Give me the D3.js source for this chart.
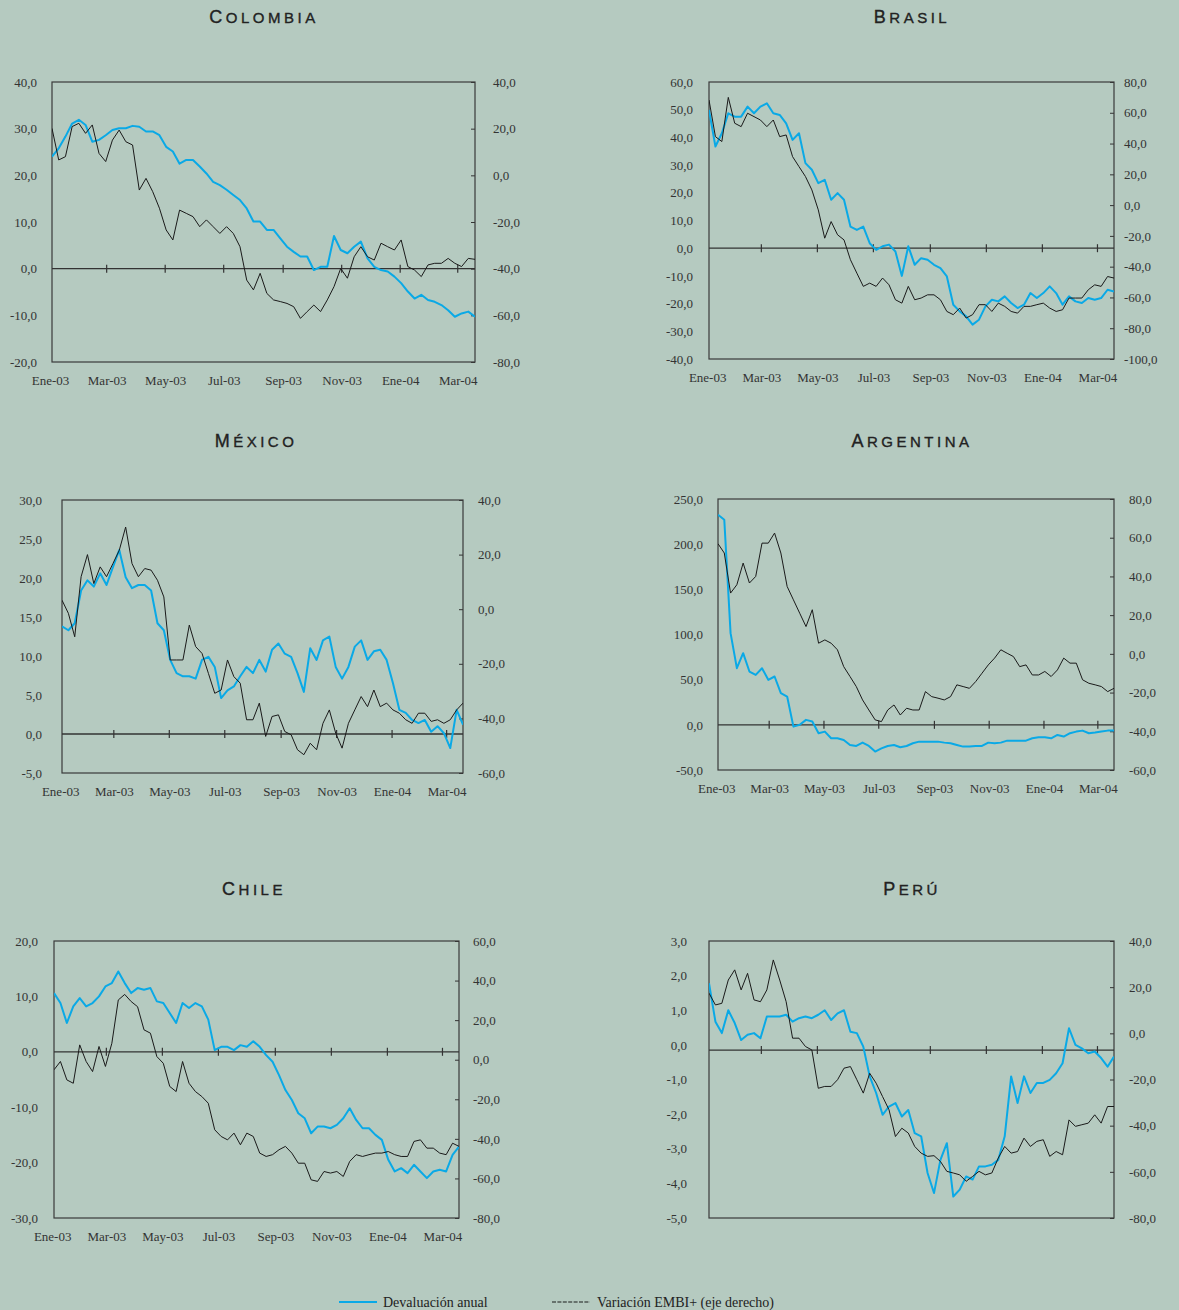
<!DOCTYPE html>
<html>
<head>
<meta charset="utf-8">
<script src="https://cdn.jsdelivr.net/npm/d3@7"></script>
<style>
  body { margin: 0; background: #b5cac0; }
  svg text { font-family: "Liberation Serif", "Times New Roman", serif; }
  .title { font-family: "Liberation Sans", Arial, sans-serif !important; fill: #222; stroke: #222; stroke-width: 0.35px; }
</style>
</head>
<body>
<div id="chart"></div>
<script>
// Weekly readings, Jan 3 2003 to Mar 19 2004
// Devaluación anual (left axis) and Variación EMBI+ (right axis)
const colombiaDev = [24.0, 25.8, 28.3, 31.1, 31.9, 30.8, 27.2, 27.6, 28.6, 29.7, 30.1, 30.1, 30.6, 30.4, 29.4, 29.4, 28.6, 26.1, 25.1, 22.5, 23.3, 23.3, 21.9, 20.4, 18.6, 17.9, 16.9, 15.8, 14.7, 12.9, 10.1, 10.1, 8.3, 8.3, 6.5, 4.7, 3.6, 2.6, 2.6, -0.3, 0.4, 0.4, 7.0, 4.0, 3.3, 4.7, 5.8, 2.2, 0.4, -0.3, -0.6, -1.7, -3.1, -4.9, -6.4, -5.6, -6.7, -7.1, -7.8, -8.9, -10.3, -9.6, -9.2, -10.3];
const colombiaEmbi = [20.1, 6.6, 8.0, 20.9, 22.3, 18.0, 21.6, 9.4, 5.9, 15.1, 19.4, 14.4, 13.0, -6.3, -1.3, -7.0, -14.1, -23.4, -27.7, -14.9, -16.3, -17.7, -22.0, -19.1, -22.0, -24.9, -22.0, -24.9, -30.6, -44.9, -49.1, -42.0, -50.6, -53.4, -54.1, -54.9, -56.3, -61.3, -58.4, -55.6, -58.4, -53.4, -47.7, -39.9, -44.1, -34.9, -30.6, -34.9, -36.3, -29.1, -30.6, -32.0, -27.7, -39.1, -40.6, -43.4, -38.4, -37.7, -37.7, -35.6, -37.7, -39.1, -35.6, -36.0];

const brasilDev = [49.9, 36.7, 41.5, 48.7, 47.5, 47.5, 51.1, 48.7, 51.1, 52.3, 48.7, 48.1, 45.1, 39.1, 41.5, 30.7, 28.3, 23.5, 24.7, 17.5, 19.9, 17.5, 7.8, 6.6, 7.8, 1.8, -0.6, 0.7, 1.3, -1.2, -10.0, 0.7, -6.0, -3.6, -4.2, -6.0, -7.2, -10.2, -20.4, -22.8, -24.6, -27.6, -25.8, -21.0, -18.6, -19.2, -17.4, -19.8, -21.6, -20.4, -16.2, -18.0, -16.2, -13.8, -16.2, -20.4, -17.4, -19.2, -19.8, -18.0, -18.6, -18.0, -15.0, -15.6];
const brasilEmbi = [68.3, 44.5, 41.3, 70.0, 53.2, 51.0, 59.7, 57.5, 55.3, 51.0, 55.3, 44.5, 45.6, 31.5, 25.0, 18.6, 9.9, -3.1, -21.5, -10.7, -19.3, -22.6, -35.5, -44.2, -52.8, -50.7, -52.8, -47.4, -51.8, -61.5, -63.7, -52.8, -61.5, -60.4, -58.3, -58.3, -61.5, -69.1, -71.2, -66.9, -73.4, -71.2, -64.7, -64.7, -69.1, -63.7, -65.8, -69.1, -70.2, -65.8, -65.8, -64.7, -63.7, -66.9, -69.1, -68.0, -60.4, -60.4, -60.4, -55.0, -51.8, -52.8, -46.4, -47.4];

const mexicoDev = [13.8, 13.3, 14.2, 18.4, 19.7, 18.9, 20.6, 19.1, 21.4, 23.6, 20.1, 18.7, 19.1, 19.1, 18.4, 14.2, 13.3, 9.5, 7.8, 7.4, 7.4, 7.1, 9.5, 9.9, 8.6, 4.6, 5.6, 6.1, 7.4, 8.6, 7.8, 9.5, 8.0, 10.8, 11.6, 10.3, 9.9, 7.8, 5.4, 11.0, 9.5, 12.0, 12.5, 8.6, 7.1, 8.6, 11.2, 12.0, 9.5, 10.6, 10.8, 9.5, 6.5, 3.1, 2.7, 1.8, 1.4, 1.8, 0.3, 1.0, 0.1, -1.8, 3.1, 1.2];
const mexicoEmbi = [3.3, -1.5, -10.1, 11.9, 20.0, 9.4, 15.5, 11.9, 16.7, 21.6, 30.1, 16.7, 11.9, 14.9, 14.3, 10.6, 4.5, -18.6, -18.6, -18.6, -5.8, -13.7, -16.2, -23.5, -30.8, -29.6, -18.6, -24.7, -27.1, -40.5, -40.5, -34.4, -46.6, -39.3, -38.7, -44.8, -46.0, -51.5, -53.3, -49.1, -51.5, -41.8, -36.9, -45.4, -50.9, -41.8, -36.9, -32.0, -35.7, -29.6, -35.7, -34.4, -36.9, -38.1, -40.5, -41.8, -38.1, -38.1, -41.1, -40.5, -41.8, -40.5, -36.9, -34.4];

const argentinaDev = [232.6, 227.0, 101.5, 62.7, 79.3, 59.0, 55.3, 62.7, 49.8, 53.5, 35.0, 31.3, -2.0, 0.0, 5.5, 3.6, -9.3, -7.5, -14.9, -14.9, -16.7, -22.3, -23.4, -19.7, -23.4, -29.6, -26.0, -23.4, -22.3, -24.8, -23.4, -20.4, -18.6, -18.6, -18.6, -18.6, -19.7, -20.4, -22.3, -24.1, -24.1, -23.4, -23.4, -19.7, -20.4, -19.7, -17.5, -17.5, -17.5, -17.5, -14.9, -13.8, -13.8, -14.9, -11.2, -13.0, -9.3, -7.5, -6.4, -9.3, -8.6, -7.5, -6.4, -6.4];
const argentinaEmbi = [56.9, 52.1, 31.4, 35.7, 46.9, 36.6, 40.0, 57.2, 57.2, 62.4, 52.1, 34.8, 27.9, 21.0, 14.1, 22.8, 5.5, 7.2, 5.5, 2.1, -6.6, -11.7, -16.9, -23.8, -29.0, -34.1, -35.0, -29.0, -26.4, -31.6, -28.1, -29.0, -29.0, -19.5, -22.1, -22.9, -23.8, -22.1, -16.0, -16.9, -17.8, -14.3, -10.0, -5.7, -2.2, 2.1, 0.3, -1.4, -6.6, -5.7, -10.9, -10.9, -9.1, -11.7, -8.3, -2.2, -4.8, -4.8, -13.4, -15.2, -16.0, -16.9, -19.5, -17.8];

const chileDev = [10.6, 8.8, 5.2, 8.2, 9.7, 8.2, 8.8, 10.0, 11.8, 12.4, 14.5, 12.4, 10.6, 11.5, 11.2, 11.5, 9.1, 8.8, 7.0, 5.2, 8.8, 7.9, 8.8, 8.2, 5.8, 0.3, 0.9, 0.9, 0.3, 1.2, 0.9, 1.9, 0.9, -0.6, -1.8, -4.2, -6.9, -8.7, -11.1, -12.0, -14.7, -13.5, -13.5, -13.8, -13.2, -12.0, -10.2, -12.3, -13.8, -13.8, -15.0, -15.9, -19.5, -21.6, -21.0, -21.9, -20.4, -21.6, -22.8, -21.6, -21.3, -21.6, -18.6, -17.1];
const chileEmbi = [-5.1, -0.9, -10.2, -11.9, 7.5, -0.9, -6.0, 6.7, -3.4, 8.3, 30.2, 33.0, 29.4, 26.8, 15.1, 13.4, 1.6, -1.8, -13.5, -16.1, -0.9, -11.9, -16.1, -18.6, -22.0, -35.4, -38.8, -40.5, -37.1, -43.0, -37.1, -38.8, -47.2, -48.9, -48.0, -45.5, -43.8, -47.2, -52.3, -52.3, -60.7, -61.5, -56.5, -57.3, -56.5, -59.0, -51.4, -48.0, -48.9, -48.0, -47.2, -47.2, -46.4, -48.0, -48.9, -48.9, -41.3, -40.5, -44.7, -44.7, -47.2, -48.0, -42.2, -43.8];

const peruDev = [1.78, 0.67, 0.34, 1.0, 0.63, 0.14, 0.29, 0.34, 0.19, 0.82, 0.82, 0.82, 0.87, 0.67, 0.77, 0.82, 0.77, 0.87, 1.0, 0.72, 0.91, 1.0, 0.38, 0.34, -0.05, -0.91, -1.39, -2.02, -1.78, -1.68, -2.07, -1.88, -2.55, -2.64, -3.7, -4.28, -3.32, -2.84, -4.38, -4.18, -3.8, -3.89, -3.51, -3.51, -3.46, -3.32, -2.64, -0.91, -1.68, -0.91, -1.39, -1.1, -1.1, -1.01, -0.82, -0.53, 0.48, 0.0, -0.1, -0.24, -0.19, -0.38, -0.63, -0.34];
const peruEmbi = [17.4, 12.3, 13.0, 23.1, 27.5, 18.8, 26.0, 14.5, 13.7, 18.8, 31.8, 23.1, 13.7, -2.1, -2.1, -5.7, -7.2, -23.8, -23.0, -23.0, -20.1, -15.1, -14.4, -20.1, -25.9, -17.3, -21.6, -27.4, -33.1, -44.7, -41.1, -43.2, -49.0, -51.9, -53.3, -53.0, -55.5, -59.8, -60.5, -61.3, -64.1, -62.0, -59.8, -61.3, -60.5, -54.0, -49.0, -51.9, -51.2, -45.4, -49.0, -46.8, -46.1, -53.3, -51.2, -52.6, -37.5, -40.3, -39.6, -38.9, -35.3, -38.9, -31.7, -31.7];

const tickDates = ["2003-01-01", "2003-03-01", "2003-05-01", "2003-07-01", "2003-09-01", "2003-11-01", "2004-01-01", "2004-03-01"];
const tickLabels = ["Ene-03", "Mar-03", "May-03", "Jul-03", "Sep-03", "Nov-03", "Ene-04", "Mar-04"];
const legendLabels = ["Devaluación anual", "Variación EMBI+ (eje derecho)"];

const blue = "#0aa9e6";
const dark = "#1a1a1a";
const parse = d3.timeParse("%Y-%m-%d");
const firstWeek = new Date(2003, 0, 3);
const lastWeek = new Date(2004, 2, 19);
const ticks = tickDates.map(parse);

// layout of each small chart
const panels = [
  { title: "Colombia", dev: colombiaDev, embi: colombiaEmbi, left: [-20, 40, 10], right: [-80, 40, 20],
    box: [52, 82, 475, 362], tx: 264, ty: 23, cross: 0, xLabels: true, lgap: 15, rgap: 18 },
  { title: "Brasil", dev: brasilDev, embi: brasilEmbi, left: [-40, 60, 10], right: [-100, 80, 20],
    box: [709, 82, 1114, 359], tx: 912, ty: 23, cross: 0, xLabels: true, lgap: 16, rgap: 10 },
  { title: "México", dev: mexicoDev, embi: mexicoEmbi, left: [-5, 30, 5], right: [-60, 40, 20],
    box: [62, 500, 463, 773], tx: 256, ty: 447, cross: 0, xLabels: true, lgap: 20, rgap: 15 },
  { title: "Argentina", dev: argentinaDev, embi: argentinaEmbi, left: [-50, 250, 50], right: [-60, 80, 20],
    box: [718, 499, 1114, 770], tx: 912, ty: 447, cross: 0, xLabels: true, lgap: 15, rgap: 15 },
  { title: "Chile", dev: chileDev, embi: chileEmbi, left: [-30, 20, 10], right: [-80, 60, 20],
    box: [54, 941, 459, 1218], tx: 254, ty: 895, cross: 0, xLabels: true, lgap: 16, rgap: 14 },
  { title: "Perú", dev: peruDev, embi: peruEmbi, left: [-5, 3, 1], right: [-80, 40, 20],
    box: [709, 941, 1114, 1218], tx: 912, ty: 895, cross: -0.15, xLabels: false, lgap: 22, rgap: 15 }
];

const fmt = v => d3.format(".1f")(v).replace(".", ",").replace("−", "-");

const svg = d3.select("#chart").append("svg")
  .attr("width", 1179)
  .attr("height", 1310);

panels.forEach((p, k) => {
  const [x0, y0, x1, y1] = p.box;
  const g = svg.append("g");

  const x = d3.scaleTime().domain([firstWeek, lastWeek]).range([x0, x1]);
  const yL = d3.scaleLinear().domain([p.left[0], p.left[1]]).range([y1, y0]);
  const yR = d3.scaleLinear().domain([p.right[0], p.right[1]]).range([y1, y0]);
  const dates = p.dev.map((_, i) => d3.timeDay.offset(firstWeek, 7 * i));

  // title in small caps
  const t = g.append("text")
    .attr("class", "title")
    .attr("x", p.tx)
    .attr("y", p.ty)
    .attr("text-anchor", "middle")
    .style("letter-spacing", "3.5px");
  t.append("tspan").attr("font-size", 18).text(p.title[0]);
  t.append("tspan").attr("font-size", 15).text(p.title.slice(1).toUpperCase());

  g.append("clipPath").attr("id", "clip" + k)
    .append("rect").attr("x", x0).attr("y", y0).attr("width", x1 - x0).attr("height", y1 - y0);

  // left axis labels
  const leftTicks = d3.range(p.left[0], p.left[1] + p.left[2] / 2, p.left[2]);
  g.append("g")
    .attr("transform", `translate(${x0},0)`)
    .call(d3.axisLeft(yL).tickValues(leftTicks).tickSize(0).tickPadding(p.lgap).tickFormat(fmt))
    .call(a => a.select(".domain").remove())
    .call(a => a.selectAll("text").attr("font-size", 13).attr("fill", "#333")
      .style("font-family", '"Liberation Serif", serif'));

  // right axis labels with short inside ticks
  const rightTicks = d3.range(p.right[0], p.right[1] + p.right[2] / 2, p.right[2]);
  g.append("g")
    .attr("transform", `translate(${x1},0)`)
    .call(d3.axisRight(yR).tickValues(rightTicks).tickSizeInner(-4).tickSizeOuter(0).tickPadding(p.rgap).tickFormat(fmt))
    .call(a => a.select(".domain").remove())
    .call(a => a.selectAll("line").attr("stroke", "#333").attr("x2", -4))
    .call(a => a.selectAll("text").attr("font-size", 13).attr("fill", "#333")
      .attr("x", p.rgap)
      .style("font-family", '"Liberation Serif", serif'));

  // month labels
  if (p.xLabels) {
    g.append("g")
      .attr("transform", `translate(0,${y1})`)
      .call(d3.axisBottom(x).tickValues(ticks).tickSize(0).tickPadding(14)
        .tickFormat((d, i) => tickLabels[i]))
      .call(a => a.select(".domain").remove())
      .call(a => a.selectAll("text").attr("font-size", 13).attr("fill", "#333")
        .style("font-family", '"Liberation Serif", serif'));
  }

  // plot frame
  g.append("rect")
    .attr("x", x0).attr("y", y0)
    .attr("width", x1 - x0).attr("height", y1 - y0)
    .attr("fill", "none")
    .attr("stroke", "#3a3a3a")
    .attr("stroke-width", 1.2);

  // horizontal crossing line with month ticks
  const yc = yL(p.cross);
  g.append("line")
    .attr("x1", x0).attr("x2", x1)
    .attr("y1", yc).attr("y2", yc)
    .attr("stroke", "#333")
    .attr("stroke-width", 1.3);
  g.selectAll(".mtick")
    .data(ticks.filter(d => x(d) > x0 + 1))
    .enter().append("line")
    .attr("x1", d => x(d)).attr("x2", d => x(d))
    .attr("y1", yc - 4).attr("y2", yc + 4)
    .attr("stroke", "#333")
    .attr("stroke-width", 1.2);

  const plot = g.append("g").attr("clip-path", `url(#clip${k})`);

  plot.append("path")
    .datum(p.dev)
    .attr("fill", "none")
    .attr("stroke", blue)
    .attr("stroke-width", 2)
    .attr("stroke-linejoin", "round")
    .attr("d", d3.line().x((d, i) => x(dates[i])).y(d => yL(d)));

  plot.append("path")
    .datum(p.embi)
    .attr("fill", "none")
    .attr("stroke", dark)
    .attr("stroke-width", 1)
    .attr("d", d3.line().x((d, i) => x(dates[i])).y(d => yR(d)));
});

// legend
const lg = svg.append("g").attr("font-size", 14).attr("fill", "#222");
lg.append("line")
  .attr("x1", 339).attr("x2", 377).attr("y1", 1302).attr("y2", 1302)
  .attr("stroke", blue).attr("stroke-width", 2);
lg.append("text").attr("x", 383).attr("y", 1307).text(legendLabels[0]);
lg.append("line")
  .attr("x1", 552).attr("x2", 590).attr("y1", 1302).attr("y2", 1302)
  .attr("stroke", dark).attr("stroke-width", 1.2)
  .attr("stroke-dasharray", "4,1.4");
lg.append("text").attr("x", 597).attr("y", 1307).text(legendLabels[1]);
</script>
</body>
</html>
